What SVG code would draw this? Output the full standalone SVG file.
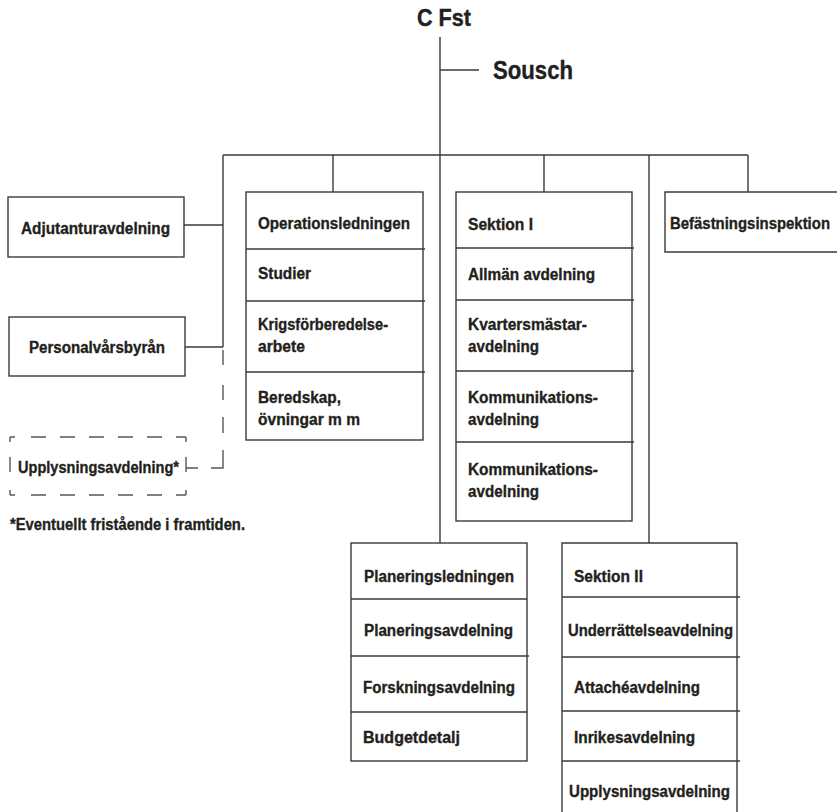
<svg xmlns="http://www.w3.org/2000/svg" width="837" height="812" viewBox="0 0 837 812">
<style>
.bg{fill:#ffffff}
.box{fill:none;stroke:#3a3a3a;stroke-width:1.4}
.ln{fill:none;stroke:#3a3a3a;stroke-width:1.4}
.dh{fill:none;stroke:#555555;stroke-width:1.4}
.t{font-family:"Liberation Sans",Arial,sans-serif;font-weight:bold;font-size:16.8px;fill:#231f20;stroke:#231f20;stroke-width:0.35}
.big{font-family:"Liberation Sans",Arial,sans-serif;font-weight:bold;fill:#231f20;stroke:#231f20;stroke-width:0.4}
</style>
<rect class="bg" x="0" y="0" width="837" height="812"/>

<g id="connectors">
  <path class="ln" d="M440,37 V543"/>
  <path class="ln" d="M440,70 H479"/>
  <path class="ln" d="M223,155 H748"/>
  <path class="ln" d="M223,155 V347"/>
  <path class="ln" d="M184,225 H223"/>
  <path class="ln" d="M185,347 H223"/>
  <path class="ln" d="M333,155 V192"/>
  <path class="ln" d="M544,155 V192"/>
  <path class="ln" d="M748,155 V192"/>
  <path class="ln" d="M649,155 V543"/>
  <path class="dh" d="M223,347 V468 H186" stroke-dasharray="0 3 15 20 15 17 16 17 30 13 12"/>
</g>

<g id="cfst">
  <text class="big" x="417" y="26" font-size="24" textLength="54" lengthAdjust="spacingAndGlyphs">C Fst</text>
</g>
<g id="sousch">
  <text class="big" x="493" y="79" font-size="26" textLength="80" lengthAdjust="spacingAndGlyphs">Sousch</text>
</g>

<g id="adjutanturavdelning">
  <rect class="box" x="8" y="197" width="176" height="60"/>
  <text class="t" x="21" y="234" textLength="149" lengthAdjust="spacingAndGlyphs">Adjutanturavdelning</text>
</g>

<g id="personalvarsbyran">
  <rect class="box" x="9" y="317" width="176" height="59"/>
  <text class="t" x="29" y="353" textLength="136" lengthAdjust="spacingAndGlyphs">Personalvårsbyrån</text>
</g>

<g id="upplysningsavdelning-star">
  <path class="dh" d="M10,437 H186" stroke-dasharray="5 16 15 14 15 14 15 14 15 14 15 14 15"/>
  <path class="dh" d="M10,495 H186" stroke-dasharray="5 16 15 14 15 14 15 14 15 14 15 14 15"/>
  <path class="dh" d="M10,437 V495" stroke-dasharray="5 15 15 18 5"/>
  <path class="dh" d="M186,437 V495" stroke-dasharray="5 15 15 18 5"/>
  <text class="t" x="18" y="473" textLength="161" lengthAdjust="spacingAndGlyphs">Upplysningsavdelning*</text>
</g>

<g id="footnote">
  <text class="t" x="10" y="530" font-size="16" textLength="235" lengthAdjust="spacingAndGlyphs">*Eventuellt fristående i framtiden.</text>
</g>

<g id="operationsledningen">
  <rect class="box" x="246" y="192" width="177" height="248"/>
  <path class="ln" d="M246,249 H425 M246,301 H425 M246,372 H425"/>
  <text class="t" x="258" y="229" textLength="152" lengthAdjust="spacingAndGlyphs">Operationsledningen</text>
  <text class="t" x="258" y="279" textLength="53" lengthAdjust="spacingAndGlyphs">Studier</text>
  <text class="t" x="258" y="330" textLength="130" lengthAdjust="spacingAndGlyphs">Krigsförberedelse-</text>
  <text class="t" x="258" y="352" textLength="47" lengthAdjust="spacingAndGlyphs">arbete</text>
  <text class="t" x="258" y="403" textLength="83" lengthAdjust="spacingAndGlyphs">Beredskap,</text>
  <text class="t" x="258" y="425" textLength="102" lengthAdjust="spacingAndGlyphs">övningar m m</text>
</g>

<g id="sektion-i">
  <rect class="box" x="456" y="192" width="176" height="329"/>
  <path class="ln" d="M456,248 H634 M456,300 H634 M456,371 H634 M456,442 H634"/>
  <text class="t" x="468" y="230" textLength="65" lengthAdjust="spacingAndGlyphs">Sektion I</text>
  <text class="t" x="468" y="280" textLength="127" lengthAdjust="spacingAndGlyphs">Allmän avdelning</text>
  <text class="t" x="468" y="330" textLength="119" lengthAdjust="spacingAndGlyphs">Kvartersmästar-</text>
  <text class="t" x="468" y="352" textLength="71" lengthAdjust="spacingAndGlyphs">avdelning</text>
  <text class="t" x="468" y="403" textLength="130" lengthAdjust="spacingAndGlyphs">Kommunikations-</text>
  <text class="t" x="468" y="425" textLength="71" lengthAdjust="spacingAndGlyphs">avdelning</text>
  <text class="t" x="468" y="475" textLength="130" lengthAdjust="spacingAndGlyphs">Kommunikations-</text>
  <text class="t" x="468" y="497" textLength="71" lengthAdjust="spacingAndGlyphs">avdelning</text>
</g>

<g id="befastningsinspektion">
  <path class="box" d="M840,192 H665 V252 H840"/>
  <text class="t" x="670" y="229" textLength="160" lengthAdjust="spacingAndGlyphs">Befästningsinspektion</text>
</g>

<g id="planeringsledningen">
  <rect class="box" x="351" y="543" width="176" height="218"/>
  <path class="ln" d="M351,599 H527 M351,656 H529 M351,712 H527"/>
  <text class="t" x="364" y="582" textLength="150" lengthAdjust="spacingAndGlyphs">Planeringsledningen</text>
  <text class="t" x="364" y="636" textLength="149" lengthAdjust="spacingAndGlyphs">Planeringsavdelning</text>
  <text class="t" x="363" y="693" textLength="152" lengthAdjust="spacingAndGlyphs">Forskningsavdelning</text>
  <text class="t" x="363" y="743" textLength="97" lengthAdjust="spacingAndGlyphs">Budgetdetalj</text>
</g>

<g id="sektion-ii">
  <path class="box" d="M562,820 V543 H737 V820"/>
  <path class="ln" d="M562,597 H740 M562,657 H740 M562,711 H740 M562,761 H740"/>
  <text class="t" x="574" y="582" textLength="69" lengthAdjust="spacingAndGlyphs">Sektion II</text>
  <text class="t" x="568" y="636" textLength="165" lengthAdjust="spacingAndGlyphs">Underrättelseavdelning</text>
  <text class="t" x="574" y="693" textLength="126" lengthAdjust="spacingAndGlyphs">Attachéavdelning</text>
  <text class="t" x="574" y="743" textLength="121" lengthAdjust="spacingAndGlyphs">Inrikesavdelning</text>
  <text class="t" x="569" y="797" textLength="161" lengthAdjust="spacingAndGlyphs">Upplysningsavdelning</text>
</g>
</svg>
